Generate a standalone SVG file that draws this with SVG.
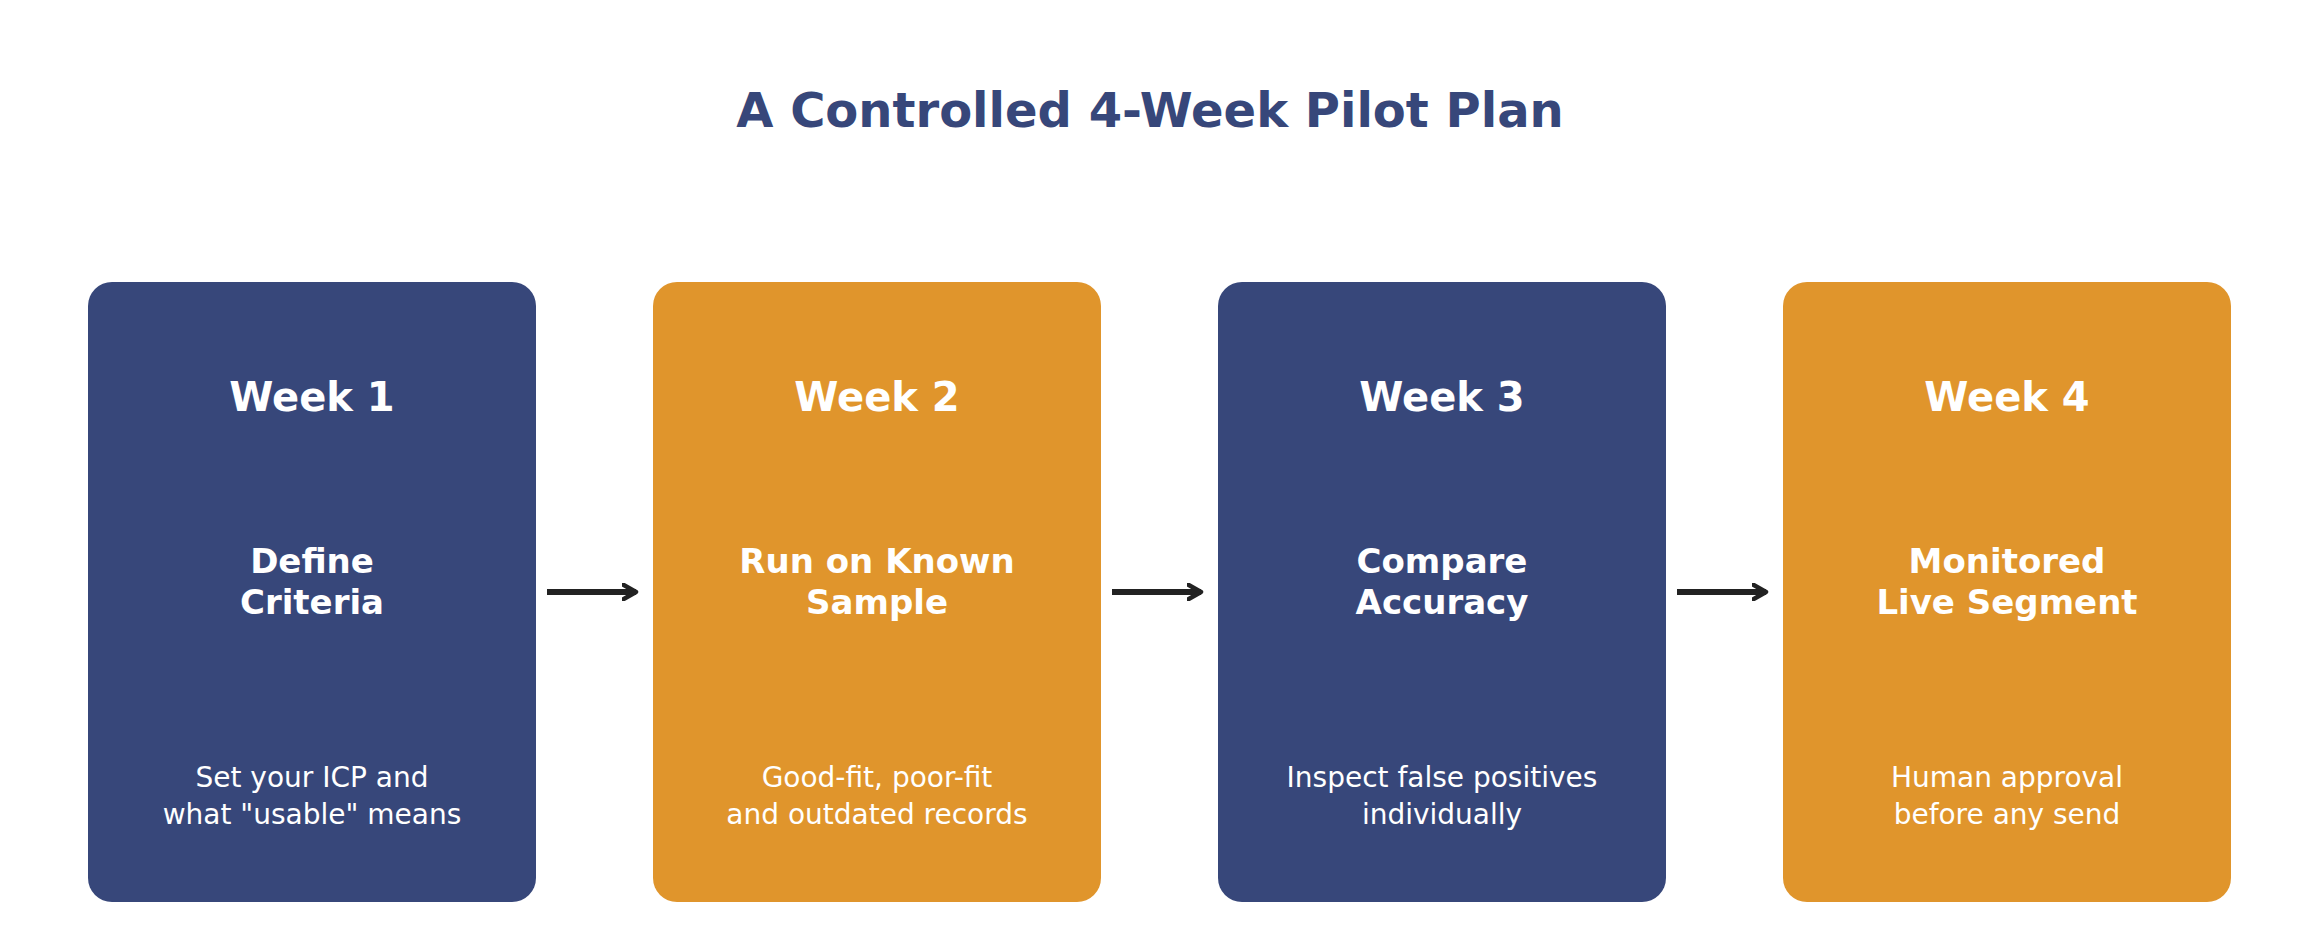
<svg xmlns="http://www.w3.org/2000/svg" width="2300" height="952" viewBox="0 0 2300 952">
<style>
text{font-family:"DejaVu Sans",sans-serif;text-anchor:middle;fill:#fff}
.t{fill:#37477A;font-size:48px;font-weight:bold}
.w{font-size:40px;font-weight:bold}
.s{font-size:34px;font-weight:bold}
.d{font-size:28px}
.n{fill:#37477A}.o{fill:#E0952C}
.c{stroke:#222;stroke-width:6;fill:none;marker-end:url(#a)}
</style>
<defs><marker id="a" viewBox="0 0 10 10" refX="8" refY="5" markerWidth="3" markerHeight="3" orient="auto"><path d="M1,1 L8,5 L1,9" fill="none" stroke="#222" stroke-width="2.5" stroke-linecap="round" stroke-linejoin="round"/></marker></defs>
<rect width="2300" height="952" fill="#fff"/>
<text class="t" x="1150" y="127">A Controlled 4-Week Pilot Plan</text>
<g id="week1"><rect class="n" x="88" y="282" width="448" height="620" rx="24"/>
<text class="w" x="312" y="411">Week 1</text><text class="s" x="312" y="573">Define</text><text class="s" x="312" y="614">Criteria</text>
<text class="d" x="312" y="787">Set your ICP and</text><text class="d" x="312" y="824">what "usable" means</text></g>
<g id="week2"><rect class="o" x="653" y="282" width="448" height="620" rx="24"/>
<text class="w" x="877" y="411">Week 2</text><text class="s" x="877" y="573">Run on Known</text><text class="s" x="877" y="614">Sample</text>
<text class="d" x="877" y="787">Good-fit, poor-fit</text><text class="d" x="877" y="824">and outdated records</text></g>
<g id="week3"><rect class="n" x="1218" y="282" width="448" height="620" rx="24"/>
<text class="w" x="1442" y="411">Week 3</text><text class="s" x="1442" y="573">Compare</text><text class="s" x="1442" y="614">Accuracy</text>
<text class="d" x="1442" y="787">Inspect false positives</text><text class="d" x="1442" y="824">individually</text></g>
<g id="week4"><rect class="o" x="1783" y="282" width="448" height="620" rx="24"/>
<text class="w" x="2007" y="411">Week 4</text><text class="s" x="2007" y="573">Monitored</text><text class="s" x="2007" y="614">Live Segment</text>
<text class="d" x="2007" y="787">Human approval</text><text class="d" x="2007" y="824">before any send</text></g>
<g id="connectors">
<path class="c" d="M547,592 H636"/>
<path class="c" d="M1112,592 H1201"/>
<path class="c" d="M1677,592 H1766"/>
</g>
</svg>
